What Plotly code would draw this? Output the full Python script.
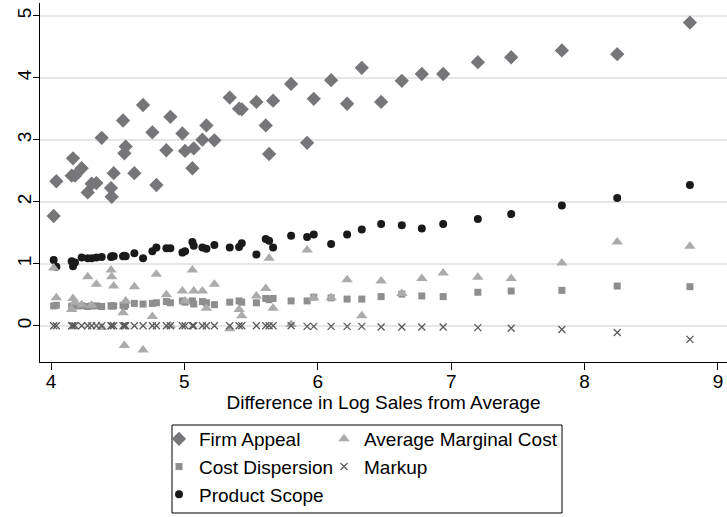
import plotly.graph_objects as go

# Difference in log sales from average (one entry per firm)
log_sales = [4.02, 4.04, 4.155, 4.165, 4.18, 4.23, 4.275, 4.305, 4.34, 4.38,
             4.45, 4.455, 4.47, 4.54, 4.55, 4.56, 4.625, 4.69, 4.76, 4.79,
             4.865, 4.895, 4.985, 5.005, 5.06, 5.07, 5.135, 5.165, 5.225, 5.34,
             5.41, 5.43, 5.54, 5.61, 5.635, 5.665, 5.80, 5.92, 5.97, 6.10,
             6.22, 6.33, 6.475, 6.63, 6.78, 6.94, 7.20, 7.45, 7.83, 8.245, 8.79]

firm_appeal = [1.77, 2.33, 2.42, 2.70, 2.42, 2.54, 2.15, 2.29, 2.30, 3.03,
               2.22, 2.08, 2.46, 3.31, 2.78, 2.89, 2.46, 3.56, 3.12, 2.27,
               2.83, 3.37, 3.10, 2.82, 2.54, 2.86, 3.00, 3.23, 2.99, 3.68,
               3.50, 3.49, 3.61, 3.23, 2.77, 3.63, 3.90, 2.95, 3.66, 3.96,
               3.58, 4.16, 3.61, 3.95, 4.06, 4.06, 4.25, 4.33, 4.44, 4.38, 4.89]

avg_marginal_cost = [0.93, 0.45, 0.26, 0.44, 0.38, 0.34, 0.79, 0.33, 0.67, -0.03,
                     0.90, 0.79, 0.64, 0.21, -0.32, 0.40, 0.63, -0.39, 0.15, 0.83,
                     0.50, 0.00, 0.56, 0.40, 0.90, 0.56, 0.56, 0.28, 0.67, -0.05,
                     0.26, 0.16, 0.48, 0.60, 1.09, 0.28, 0.02, 1.22, 0.45, 0.45,
                     0.74, 0.16, 0.72, 0.52, 0.76, 0.85, 0.78, 0.76, 1.01, 1.35, 1.28]

cost_dispersion = [0.32, 0.33, 0.31, 0.32, 0.32, 0.32, 0.31, 0.32, 0.32, 0.31,
                   0.32, 0.32, 0.32, 0.33, 0.31, 0.34, 0.36, 0.35, 0.36, 0.37,
                   0.39, 0.37, 0.40, 0.38, 0.40, 0.35, 0.39, 0.37, 0.34, 0.38,
                   0.40, 0.38, 0.37, 0.44, 0.42, 0.44, 0.40, 0.40, 0.46, 0.45,
                   0.43, 0.43, 0.47, 0.51, 0.48, 0.47, 0.54, 0.56, 0.57, 0.64, 0.63]

markup = [0.00, 0.00, 0.00, 0.00, 0.00, 0.00, 0.00, 0.00, 0.00, 0.00,
          0.00, 0.00, 0.00, 0.00, 0.00, 0.00, 0.00, 0.00, 0.00, 0.00,
          0.00, 0.00, 0.00, 0.00, 0.00, 0.00, 0.00, 0.00, 0.00, 0.00,
          0.00, 0.00, 0.00, 0.00, 0.00, 0.00, 0.00, -0.01, -0.01, -0.01,
          -0.01, -0.01, -0.02, -0.02, -0.02, -0.02, -0.03, -0.04, -0.06, -0.11, -0.22]

product_scope = [1.06, 0.95, 1.04, 0.96, 1.02, 1.10, 1.09, 1.09, 1.10, 1.11,
                 1.11, 1.12, 1.12, 1.12, 1.13, 1.12, 1.17, 1.09, 1.20, 1.26,
                 1.25, 1.25, 1.18, 1.20, 1.35, 1.29, 1.26, 1.24, 1.30, 1.26,
                 1.27, 1.33, 1.15, 1.40, 1.37, 1.26, 1.45, 1.43, 1.47, 1.32,
                 1.47, 1.55, 1.64, 1.62, 1.57, 1.64, 1.72, 1.80, 1.94, 2.06, 2.27]

x_ticks = [4, 5, 6, 7, 8, 9]
y_ticks = [0, 1, 2, 3, 4, 5]

FONT = "Liberation Sans, Arial, sans-serif"
FS = 19

fig = go.Figure()
fig.add_trace(go.Scatter(x=log_sales, y=firm_appeal, mode="markers", name="Firm Appeal",
                         legend="legend",
                         marker=dict(symbol="diamond", size=11, color="#76767a")))
fig.add_trace(go.Scatter(x=log_sales, y=cost_dispersion, mode="markers", name="Cost Dispersion",
                         legend="legend",
                         marker=dict(symbol="square", size=7, color="#8e8e8e")))
fig.add_trace(go.Scatter(x=log_sales, y=product_scope, mode="markers", name="Product Scope",
                         legend="legend",
                         marker=dict(symbol="circle", size=8, color="#1a1a1a")))
fig.add_trace(go.Scatter(x=log_sales, y=avg_marginal_cost, mode="markers", name="Average Marginal Cost",
                         legend="legend2",
                         marker=dict(symbol="triangle-up", size=10, color="#ababab")))
fig.add_trace(go.Scatter(x=log_sales, y=markup, mode="markers", name="Markup",
                         legend="legend2",
                         marker=dict(symbol="x-thin", size=7, color="#5a5a5a",
                                     line=dict(width=1.3, color="#5a5a5a"))))

# Plot area in page pixels: x 40..727, y 3..362
def px_x(p):
    return (p - 40) / 687.0

def px_y(p):
    return (362 - p) / 359.0

legend_common = dict(orientation="v", xanchor="left", yanchor="top",
                     borderwidth=0, bgcolor="rgba(0,0,0,0)",
                     font=dict(size=FS, family=FONT), itemwidth=30,
                     tracegroupgap=0)

fig.update_layout(
    width=727, height=517,
    margin=dict(l=40, r=0, t=3, b=155, autoexpand=False),
    paper_bgcolor="white", plot_bgcolor="white",
    font=dict(family=FONT, size=FS, color="#000000"),
    showlegend=True,
    legend=dict(x=px_x(159), y=px_y(420), **legend_common),
    legend2=dict(x=px_x(324), y=px_y(420), **legend_common),
    shapes=[dict(type="rect", xref="paper", yref="paper",
                 x0=px_x(172), x1=px_x(562), y0=px_y(513), y1=px_y(425),
                 line=dict(color="#000000", width=1))],
    xaxis=dict(range=[3.9175, 9.068], tickvals=x_ticks, ticks="outside", ticklen=7,
               tickcolor="#000", showline=True, linecolor="#000", linewidth=1,
               showgrid=False, zeroline=False, automargin=False,
               tickfont=dict(size=FS), ticklabelstandoff=-5,
               ticklabeloverflow="allow",
               title=dict(text="Difference in Log Sales from Average", standoff=0,
                          font=dict(size=FS))),
    yaxis=dict(range=[-0.585, 5.205], tickvals=y_ticks, ticks="outside", ticklen=6,
               tickcolor="#000", showline=True, linecolor="#000", linewidth=1,
               showgrid=True, gridcolor="#e6e6e6", gridwidth=1.5, zeroline=False,
               tickangle=-90, automargin=False, tickfont=dict(size=FS),
               ticklabelstandoff=-6),
)

# remove the browser's default 8px body margin so the figure fills the window
fig.write_html("out.html", config={"displayModeBar": False},
               post_script="document.body.style.margin='0';document.body.style.overflow='hidden';")
